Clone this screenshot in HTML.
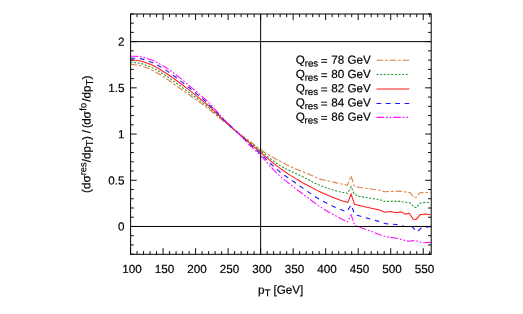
<!DOCTYPE html>
<html><head><meta charset="utf-8"><title>plot</title>
<style>html,body{margin:0;padding:0;background:#fff;}svg{display:block;will-change:transform;}text{font-family:"Liberation Sans",sans-serif;fill:#000;stroke:#000;stroke-width:0.18px;text-rendering:geometricPrecision;}</style></head><body>
<svg width="523" height="314" viewBox="0 0 523 314">
<rect x="0" y="0" width="523" height="314" fill="#fff"/>
<g fill="none" stroke-linejoin="miter" stroke-linecap="butt">
<path d="M130.5 64.3 L132.5 64.4 L134.5 64.7 L136.5 65.0 L138.5 65.3 L140.5 65.7 L142.5 66.3 L144.5 67.0 L146.5 67.8 L148.5 68.6 L150.5 69.5 L152.5 70.4 L154.5 71.4 L156.5 72.5 L158.5 73.7 L160.5 74.8 L162.5 76.1 L164.5 77.3 L166.5 78.7 L168.5 80.1 L170.5 81.5 L172.5 83.0 L174.5 84.5 L176.5 86.0 L178.5 87.4 L180.5 88.8 L182.5 90.2 L184.5 91.6 L186.5 93.0 L188.5 94.4 L190.5 95.8 L192.5 97.2 L194.5 98.6 L196.5 100.0 L198.5 101.5 L200.5 102.9 L202.5 104.4 L204.5 105.9 L206.5 107.5 L208.5 109.0 L210.5 110.6 L212.5 112.2 L214.5 113.8 L216.5 115.4 L218.5 117.1 L220.5 118.7 L222.5 120.4 L224.5 121.9 L226.5 123.5 L228.5 125.1 L230.5 126.8 L232.5 128.4 L234.5 130.1 L236.5 131.8 L238.5 133.3 L240.5 134.8 L242.5 136.2 L244.5 137.5 L246.5 138.9 L248.5 140.3 L250.5 141.8 L252.5 143.4 L254.5 145.0 L256.5 146.6 L258.5 148.1 L260.5 149.5 L262.5 150.9 L264.5 152.2 L266.5 153.4 L268.5 154.7 L270.5 155.9 L272.5 157.1 L274.5 158.2 L276.5 159.4 L278.5 160.5 L280.5 161.5 L282.5 162.6 L284.5 163.6 L286.5 164.7 L288.5 165.6 L290.5 166.6 L292.5 167.5 L294.5 168.4 L296.5 169.3 L298.5 170.1 L300.5 170.9 L302.5 171.7 L304.5 172.5 L306.5 173.3 L308.5 174.1 L310.5 175.0 L312.5 175.8 L314.5 176.8 L316.5 177.7 L318.5 178.5 L320.5 179.1 L322.5 179.7 L324.5 180.1 L326.5 180.6 L328.5 181.0 L330.5 181.5 L332.5 182.0 L334.5 182.4 L336.5 182.9 L338.5 183.3 L340.5 183.8 L342.5 184.2 L344.5 184.6 L346.5 185.0 L347.5 185.2 L351.1 175.9 L354.3 186.3 L359.5 187.5 L380.0 190.2 L384.1 191.7 L399.4 191.1 L410.1 192.6 L414.0 197.6 L416.7 197.0 L419.6 193.0 L423.0 192.4 L430.5 192.6" stroke="#dd8045" stroke-width="1.1" stroke-dasharray="6.6 2 2.5 2"/>
<path d="M130.5 62.2 L132.5 62.3 L134.5 62.5 L136.5 62.7 L138.5 63.1 L140.5 63.4 L142.5 63.9 L144.5 64.6 L146.5 65.4 L148.5 66.2 L150.5 67.0 L152.5 67.9 L154.5 68.9 L156.5 69.9 L158.5 71.1 L160.5 72.3 L162.5 73.5 L164.5 74.7 L166.5 76.1 L168.5 77.5 L170.5 78.9 L172.5 80.4 L174.5 81.8 L176.5 83.3 L178.5 84.7 L180.5 86.2 L182.5 87.7 L184.5 89.2 L186.5 90.6 L188.5 92.1 L190.5 93.6 L192.5 95.0 L194.5 96.5 L196.5 98.0 L198.5 99.5 L200.5 101.1 L202.5 102.6 L204.5 104.2 L206.5 105.8 L208.5 107.4 L210.5 109.1 L212.5 110.8 L214.5 112.6 L216.5 114.4 L218.5 116.2 L220.5 117.9 L222.5 119.7 L224.5 121.4 L226.5 123.1 L228.5 124.8 L230.5 126.5 L232.5 128.2 L234.5 130.0 L236.5 131.7 L238.5 133.3 L240.5 134.9 L242.5 136.5 L244.5 138.1 L246.5 139.6 L248.5 141.2 L250.5 142.8 L252.5 144.4 L254.5 146.0 L256.5 147.6 L258.5 149.2 L260.5 150.7 L262.5 152.3 L264.5 153.9 L266.5 155.5 L268.5 157.1 L270.5 158.7 L272.5 160.3 L274.5 161.8 L276.5 163.2 L278.5 164.6 L280.5 165.8 L282.5 166.9 L284.5 168.0 L286.5 169.1 L288.5 170.1 L290.5 171.0 L292.5 172.0 L294.5 172.9 L296.5 173.8 L298.5 174.7 L300.5 175.6 L302.5 176.6 L304.5 177.6 L306.5 178.7 L308.5 179.7 L310.5 180.8 L312.5 181.9 L314.5 182.9 L316.5 183.9 L318.5 184.8 L320.5 185.6 L322.5 186.3 L324.5 187.1 L326.5 187.8 L328.5 188.5 L330.5 189.1 L332.5 189.8 L334.5 190.4 L336.5 191.0 L338.5 191.5 L340.5 192.0 L342.5 192.4 L344.5 192.7 L346.5 193.1 L347.5 193.2 L351.1 186.7 L354.3 194.3 L359.5 196.4 L380.0 199.8 L384.1 201.4 L399.4 201.4 L410.1 202.9 L414.0 207.0 L416.7 207.5 L419.6 203.4 L423.0 202.6 L430.5 202.4" stroke="#259a30" stroke-width="1.12" stroke-dasharray="2 1.65"/>
<path d="M130.5 60.0 L132.5 60.1 L134.5 60.2 L136.5 60.5 L138.5 60.8 L140.5 61.1 L142.5 61.6 L144.5 62.2 L146.5 62.9 L148.5 63.6 L150.5 64.4 L152.5 65.3 L154.5 66.3 L156.5 67.4 L158.5 68.5 L160.5 69.7 L162.5 71.0 L164.5 72.2 L166.5 73.5 L168.5 74.8 L170.5 76.2 L172.5 77.6 L174.5 79.0 L176.5 80.5 L178.5 82.0 L180.5 83.5 L182.5 85.0 L184.5 86.5 L186.5 88.1 L188.5 89.6 L190.5 91.1 L192.5 92.7 L194.5 94.2 L196.5 95.8 L198.5 97.4 L200.5 99.0 L202.5 100.6 L204.5 102.3 L206.5 104.0 L208.5 105.7 L210.5 107.4 L212.5 109.3 L214.5 111.2 L216.5 113.2 L218.5 115.2 L220.5 117.1 L222.5 119.0 L224.5 120.9 L226.5 122.7 L228.5 124.5 L230.5 126.3 L232.5 128.0 L234.5 129.8 L236.5 131.6 L238.5 133.4 L240.5 135.1 L242.5 136.9 L244.5 138.7 L246.5 140.4 L248.5 142.2 L250.5 143.9 L252.5 145.6 L254.5 147.3 L256.5 149.0 L258.5 150.7 L260.5 152.4 L262.5 154.1 L264.5 155.8 L266.5 157.5 L268.5 159.2 L270.5 160.8 L272.5 162.5 L274.5 164.1 L276.5 165.6 L278.5 167.2 L280.5 168.6 L282.5 170.0 L284.5 171.4 L286.5 172.8 L288.5 174.1 L290.5 175.4 L292.5 176.6 L294.5 177.9 L296.5 179.1 L298.5 180.3 L300.5 181.5 L302.5 182.6 L304.5 183.8 L306.5 184.8 L308.5 185.8 L310.5 186.8 L312.5 187.9 L314.5 189.0 L316.5 190.1 L318.5 191.1 L320.5 192.0 L322.5 192.9 L324.5 193.8 L326.5 194.7 L328.5 195.6 L330.5 196.4 L332.5 197.2 L334.5 198.0 L336.5 198.8 L338.5 199.5 L340.5 200.2 L342.5 200.9 L344.5 201.4 L346.5 202.0 L347.9 202.4 L351.1 194.0 L354.5 204.3 L359.5 205.5 L370.3 208.0 L379.5 209.9 L384.8 212.2 L390.2 211.5 L396.3 212.7 L400.9 211.9 L405.5 214.1 L409.3 213.3 L413.1 219.1 L416.2 219.4 L420.0 214.8 L425.4 214.1 L430.5 214.8" stroke="#ff1a1a" stroke-width="1.05"/>
<path d="M130.5 58.2 L132.5 58.2 L134.5 58.3 L136.5 58.4 L138.5 58.6 L140.5 58.7 L142.5 59.1 L144.5 59.7 L146.5 60.3 L148.5 61.1 L150.5 61.9 L152.5 62.6 L154.5 63.6 L156.5 64.6 L158.5 65.7 L160.5 66.9 L162.5 68.1 L164.5 69.3 L166.5 70.6 L168.5 71.9 L170.5 73.4 L172.5 74.8 L174.5 76.2 L176.5 77.7 L178.5 79.3 L180.5 80.8 L182.5 82.4 L184.5 84.0 L186.5 85.6 L188.5 87.2 L190.5 88.8 L192.5 90.4 L194.5 92.0 L196.5 93.7 L198.5 95.3 L200.5 97.0 L202.5 98.7 L204.5 100.4 L206.5 102.1 L208.5 104.0 L210.5 105.9 L212.5 107.9 L214.5 110.0 L216.5 112.0 L218.5 114.2 L220.5 116.3 L222.5 118.4 L224.5 120.3 L226.5 122.3 L228.5 124.1 L230.5 126.0 L232.5 127.9 L234.5 129.7 L236.5 131.5 L238.5 133.4 L240.5 135.3 L242.5 137.3 L244.5 139.2 L246.5 141.2 L248.5 143.1 L250.5 145.0 L252.5 146.8 L254.5 148.6 L256.5 150.4 L258.5 152.2 L260.5 154.0 L262.5 155.9 L264.5 157.7 L266.5 159.6 L268.5 161.6 L270.5 163.5 L272.5 165.3 L274.5 167.2 L276.5 169.0 L278.5 170.7 L280.5 172.3 L282.5 173.8 L284.5 175.3 L286.5 176.7 L288.5 178.1 L290.5 179.5 L292.5 180.9 L294.5 182.3 L296.5 183.7 L298.5 185.1 L300.5 186.5 L302.5 187.9 L304.5 189.3 L306.5 190.7 L308.5 192.1 L310.5 193.4 L312.5 194.8 L314.5 196.2 L316.5 197.5 L318.5 198.7 L320.5 199.9 L322.5 201.0 L324.5 202.0 L326.5 203.1 L328.5 204.1 L330.5 205.1 L332.5 206.1 L334.5 207.0 L336.5 207.9 L338.5 208.8 L340.5 209.6 L342.5 210.3 L344.5 211.0 L346.5 211.6 L347.0 211.7 L351.1 204.8 L354.8 214.8 L357.3 215.3 L370.3 219.1 L377.9 221.1 L385.6 223.7 L396.3 224.5 L403.9 226.3 L412.4 226.8 L417.0 232.1 L420.8 228.3 L425.4 227.2 L430.5 226.8" stroke="#1515ff" stroke-width="1.1" stroke-dasharray="4.7 4.66"/>
<path d="M130.5 56.2 L132.5 56.2 L134.5 56.3 L136.5 56.4 L138.5 56.6 L140.5 56.7 L142.5 57.1 L144.5 57.6 L146.5 58.2 L148.5 58.9 L150.5 59.6 L152.5 60.3 L154.5 61.2 L156.5 62.2 L158.5 63.3 L160.5 64.4 L162.5 65.6 L164.5 66.8 L166.5 68.0 L168.5 69.4 L170.5 70.8 L172.5 72.2 L174.5 73.6 L176.5 75.2 L178.5 76.7 L180.5 78.3 L182.5 80.0 L184.5 81.6 L186.5 83.3 L188.5 84.9 L190.5 86.6 L192.5 88.3 L194.5 90.0 L196.5 91.7 L198.5 93.5 L200.5 95.2 L202.5 97.0 L204.5 98.7 L206.5 100.5 L208.5 102.4 L210.5 104.4 L212.5 106.6 L214.5 108.8 L216.5 111.0 L218.5 113.2 L220.5 115.5 L222.5 117.7 L224.5 119.8 L226.5 121.8 L228.5 123.8 L230.5 125.8 L232.5 127.7 L234.5 129.6 L236.5 131.5 L238.5 133.4 L240.5 135.5 L242.5 137.6 L244.5 139.8 L246.5 141.9 L248.5 144.0 L250.5 146.0 L252.5 147.9 L254.5 149.8 L256.5 151.6 L258.5 153.5 L260.5 155.5 L262.5 157.6 L264.5 159.7 L266.5 161.9 L268.5 164.1 L270.5 166.4 L272.5 168.6 L274.5 170.8 L276.5 172.8 L278.5 174.8 L280.5 176.6 L282.5 178.3 L284.5 179.9 L286.5 181.4 L288.5 183.0 L290.5 184.6 L292.5 186.1 L294.5 187.7 L296.5 189.2 L298.5 190.8 L300.5 192.3 L302.5 193.8 L304.5 195.3 L306.5 196.8 L308.5 198.3 L310.5 199.8 L312.5 201.3 L314.5 202.8 L316.5 204.3 L318.5 205.7 L320.5 207.0 L322.5 208.3 L324.5 209.5 L326.5 210.7 L328.5 211.9 L330.5 213.0 L332.5 214.1 L334.5 215.2 L336.5 216.3 L338.5 217.4 L340.5 218.5 L342.5 219.4 L344.5 220.4 L346.5 221.3 L347.5 221.8 L351.1 214.9 L354.8 225.1 L362.6 228.3 L370.3 231.1 L377.9 234.0 L385.6 236.7 L396.3 238.2 L403.9 240.1 L408.5 241.3 L415.4 240.5 L422.3 242.8 L430.5 242.4" stroke="#ff10ff" stroke-width="1.1" stroke-dasharray="7.6 1.85 1.8 1.85 1.8 1.8"/>
</g>
<g fill="none">
<path d="M376.5 60.2 L409.3 60.2" stroke="#dd8045" stroke-width="1.1" stroke-dasharray="6.6 2 2.5 2"/>
<path d="M376.5 74.5 L409.3 74.5" stroke="#259a30" stroke-width="1.12" stroke-dasharray="2 1.65"/>
<path d="M376.5 89.0 L409.3 89.0" stroke="#ff1a1a" stroke-width="1.05"/>
<path d="M376.5 103.5 L409.3 103.5" stroke="#1515ff" stroke-width="1.1" stroke-dasharray="4.7 4.66"/>
<path d="M376.5 117.4 L409.3 117.4" stroke="#ff10ff" stroke-width="1.1" stroke-dasharray="7.6 1.85 1.8 1.85 1.8 1.8"/>
</g>
<g stroke="#000" stroke-width="1" fill="none">
<rect x="130.6" y="14.0" width="300.6" height="240.3"/>
<path d="M130.6 226.47 H431.2 M130.6 41.63 H431.2 M260.63 14.0 V254.3"/>
<path d="M130.55 254.3 v-6.1 M130.55 14.0 v6.1 M137.05 254.3 v-3.2 M137.05 14.0 v3.2 M143.56 254.3 v-3.2 M143.56 14.0 v3.2 M150.06 254.3 v-3.2 M150.06 14.0 v3.2 M156.57 254.3 v-3.2 M156.57 14.0 v3.2 M163.07 254.3 v-6.1 M163.07 14.0 v6.1 M169.57 254.3 v-3.2 M169.57 14.0 v3.2 M176.08 254.3 v-3.2 M176.08 14.0 v3.2 M182.58 254.3 v-3.2 M182.58 14.0 v3.2 M189.09 254.3 v-3.2 M189.09 14.0 v3.2 M195.59 254.3 v-6.1 M195.59 14.0 v6.1 M202.09 254.3 v-3.2 M202.09 14.0 v3.2 M208.60 254.3 v-3.2 M208.60 14.0 v3.2 M215.10 254.3 v-3.2 M215.10 14.0 v3.2 M221.61 254.3 v-3.2 M221.61 14.0 v3.2 M228.11 254.3 v-6.1 M228.11 14.0 v6.1 M234.61 254.3 v-3.2 M234.61 14.0 v3.2 M241.12 254.3 v-3.2 M241.12 14.0 v3.2 M247.62 254.3 v-3.2 M247.62 14.0 v3.2 M254.13 254.3 v-3.2 M254.13 14.0 v3.2 M260.63 254.3 v-6.1 M260.63 14.0 v6.1 M267.13 254.3 v-3.2 M267.13 14.0 v3.2 M273.64 254.3 v-3.2 M273.64 14.0 v3.2 M280.14 254.3 v-3.2 M280.14 14.0 v3.2 M286.65 254.3 v-3.2 M286.65 14.0 v3.2 M293.15 254.3 v-6.1 M293.15 14.0 v6.1 M299.65 254.3 v-3.2 M299.65 14.0 v3.2 M306.16 254.3 v-3.2 M306.16 14.0 v3.2 M312.66 254.3 v-3.2 M312.66 14.0 v3.2 M319.17 254.3 v-3.2 M319.17 14.0 v3.2 M325.67 254.3 v-6.1 M325.67 14.0 v6.1 M332.17 254.3 v-3.2 M332.17 14.0 v3.2 M338.68 254.3 v-3.2 M338.68 14.0 v3.2 M345.18 254.3 v-3.2 M345.18 14.0 v3.2 M351.69 254.3 v-3.2 M351.69 14.0 v3.2 M358.19 254.3 v-6.1 M358.19 14.0 v6.1 M364.69 254.3 v-3.2 M364.69 14.0 v3.2 M371.20 254.3 v-3.2 M371.20 14.0 v3.2 M377.70 254.3 v-3.2 M377.70 14.0 v3.2 M384.21 254.3 v-3.2 M384.21 14.0 v3.2 M390.71 254.3 v-6.1 M390.71 14.0 v6.1 M397.21 254.3 v-3.2 M397.21 14.0 v3.2 M403.72 254.3 v-3.2 M403.72 14.0 v3.2 M410.22 254.3 v-3.2 M410.22 14.0 v3.2 M416.73 254.3 v-3.2 M416.73 14.0 v3.2 M423.23 254.3 v-6.1 M423.23 14.0 v6.1 M429.73 254.3 v-3.2 M429.73 14.0 v3.2 M130.6 254.20 h3.2 M431.2 254.20 h-3.2 M130.6 244.95 h3.2 M431.2 244.95 h-3.2 M130.6 235.71 h3.2 M431.2 235.71 h-3.2 M130.6 226.47 h6.1 M431.2 226.47 h-6.1 M130.6 217.23 h3.2 M431.2 217.23 h-3.2 M130.6 207.99 h3.2 M431.2 207.99 h-3.2 M130.6 198.74 h3.2 M431.2 198.74 h-3.2 M130.6 189.50 h3.2 M431.2 189.50 h-3.2 M130.6 180.26 h6.1 M431.2 180.26 h-6.1 M130.6 171.02 h3.2 M431.2 171.02 h-3.2 M130.6 161.78 h3.2 M431.2 161.78 h-3.2 M130.6 152.53 h3.2 M431.2 152.53 h-3.2 M130.6 143.29 h3.2 M431.2 143.29 h-3.2 M130.6 134.05 h6.1 M431.2 134.05 h-6.1 M130.6 124.81 h3.2 M431.2 124.81 h-3.2 M130.6 115.57 h3.2 M431.2 115.57 h-3.2 M130.6 106.32 h3.2 M431.2 106.32 h-3.2 M130.6 97.08 h3.2 M431.2 97.08 h-3.2 M130.6 87.84 h6.1 M431.2 87.84 h-6.1 M130.6 78.60 h3.2 M431.2 78.60 h-3.2 M130.6 69.36 h3.2 M431.2 69.36 h-3.2 M130.6 60.11 h3.2 M431.2 60.11 h-3.2 M130.6 50.87 h3.2 M431.2 50.87 h-3.2 M130.6 41.63 h6.1 M431.2 41.63 h-6.1 M130.6 32.39 h3.2 M431.2 32.39 h-3.2 M130.6 23.15 h3.2 M431.2 23.15 h-3.2 M130.6 13.90 h3.2 M431.2 13.90 h-3.2" stroke-width="0.95"/>
</g>
<g font-size="11.70" text-anchor="middle">
<text x="132.0" y="273.0" transform="rotate(0.03 132.0 273.0)">100</text>
<text x="164.5" y="273.0" transform="rotate(0.03 164.5 273.0)">150</text>
<text x="197.0" y="273.0" transform="rotate(0.03 197.0 273.0)">200</text>
<text x="229.5" y="273.0" transform="rotate(0.03 229.5 273.0)">250</text>
<text x="262.0" y="273.0" transform="rotate(0.03 262.0 273.0)">300</text>
<text x="294.5" y="273.0" transform="rotate(0.03 294.5 273.0)">350</text>
<text x="327.1" y="273.0" transform="rotate(0.03 327.1 273.0)">400</text>
<text x="359.6" y="273.0" transform="rotate(0.03 359.6 273.0)">450</text>
<text x="392.1" y="273.0" transform="rotate(0.03 392.1 273.0)">500</text>
<text x="424.6" y="273.0" transform="rotate(0.03 424.6 273.0)">550</text>
</g>
<g font-size="11.70" text-anchor="end">
<text x="124.4" y="45.7" transform="rotate(0.03 124.4 45.7)">2</text>
<text x="124.4" y="91.9" transform="rotate(0.03 124.4 91.9)">1.5</text>
<text x="124.4" y="138.2" transform="rotate(0.03 124.4 138.2)">1</text>
<text x="124.4" y="184.4" transform="rotate(0.03 124.4 184.4)">0.5</text>
<text x="124.4" y="230.6" transform="rotate(0.03 124.4 230.6)">0</text>
</g>
<text x="280.6" y="293.8" transform="rotate(0.03 280.6 293.8)" font-size="11.70" text-anchor="middle">p<tspan font-size="10.00" dy="2.5">T</tspan><tspan dx="-0.4" dy="-2.5"> [GeV]</tspan></text>
<text transform="translate(90.4 134.2) rotate(-89.97)"><tspan x="-58.74" y="0.00" font-size="11.70">(dσ</tspan><tspan x="-41.13" y="-4.10" font-size="9.36">res</tspan><tspan x="-28.15" y="0.00" font-size="11.70">/dp</tspan><tspan x="-12.10" y="2.50" font-size="10.00">T</tspan><tspan x="-5.80" y="0.00" font-size="11.70">)</tspan><tspan x="0.95" y="0.00" font-size="11.70">/</tspan><tspan x="6.10" y="0.00" font-size="11.70">(</tspan><tspan x="9.50" y="0.00" font-size="11.70">d</tspan><tspan x="15.70" y="0.00" font-size="11.70">σ</tspan><tspan x="23.50" y="-4.10" font-size="9.36">fo</tspan><tspan x="32.40" y="0.00" font-size="11.70">/dp</tspan><tspan x="48.60" y="2.50" font-size="10.00">T</tspan><tspan x="54.70" y="0.00" font-size="11.70">)</tspan></text>
<g font-size="11.70">
<text transform="rotate(0.03 330 90)"><tspan x="295.70" y="63.75">Q</tspan><tspan x="304.65" y="66.45" font-size="9.70">res</tspan><tspan x="320.70" y="64.75">=</tspan><tspan x="331.25" y="63.75">78 GeV</tspan></text>
<text transform="rotate(0.03 330 90)"><tspan x="295.70" y="78.03">Q</tspan><tspan x="304.65" y="80.73" font-size="9.70">res</tspan><tspan x="320.70" y="79.03">=</tspan><tspan x="331.25" y="78.03">80 GeV</tspan></text>
<text transform="rotate(0.03 330 90)"><tspan x="295.70" y="92.30">Q</tspan><tspan x="304.65" y="95.00" font-size="9.70">res</tspan><tspan x="320.70" y="93.30">=</tspan><tspan x="331.25" y="92.30">82 GeV</tspan></text>
<text transform="rotate(0.03 330 90)"><tspan x="295.70" y="106.58">Q</tspan><tspan x="304.65" y="109.28" font-size="9.70">res</tspan><tspan x="320.70" y="107.58">=</tspan><tspan x="331.25" y="106.58">84 GeV</tspan></text>
<text transform="rotate(0.03 330 90)"><tspan x="295.70" y="120.85">Q</tspan><tspan x="304.65" y="123.55" font-size="9.70">res</tspan><tspan x="320.70" y="121.85">=</tspan><tspan x="331.25" y="120.85">86 GeV</tspan></text>
</g>
</svg></body></html>
